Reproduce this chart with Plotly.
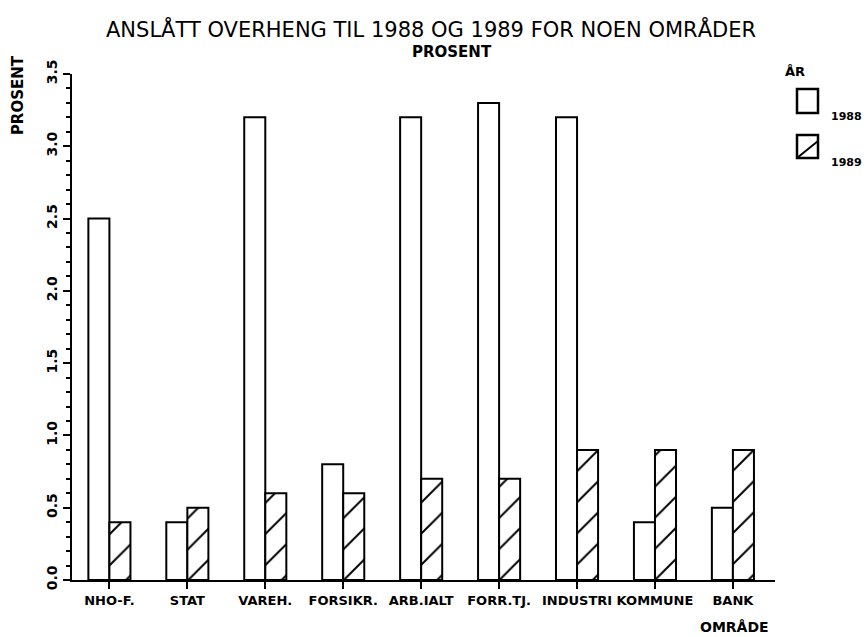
import plotly.graph_objects as go

categories = ["NHO-F.", "STAT", "VAREH.", "FORSIKR.", "ARB.IALT", "FORR.TJ.", "INDUSTRI", "KOMMUNE", "BANK"]
values_1988 = [2.5, 0.4, 3.2, 0.8, 3.2, 3.3, 3.2, 0.4, 0.5]
values_1989 = [0.4, 0.5, 0.6, 0.6, 0.7, 0.7, 0.9, 0.9, 0.9]
y_ticks = [0.0, 0.5, 1.0, 1.5, 2.0, 2.5, 3.0, 3.5]

FONT = "DejaVu Sans"

fig = go.Figure()
fig.add_trace(go.Bar(
    x=categories, y=values_1988, name="1988",
    marker=dict(color="white", line=dict(color="black", width=2)),
))
fig.add_trace(go.Bar(
    x=categories, y=values_1989, name="1989",
    marker=dict(color="white", line=dict(color="black", width=2),
                pattern=dict(shape="/", fgcolor="black", bgcolor="white",
                             fgopacity=1, size=22, solidity=0.09)),
))

fig.update_layout(
    width=867, height=637,
    margin=dict(l=72, r=92, t=74, b=57),
    paper_bgcolor="white", plot_bgcolor="white",
    barmode="group", bargap=0.46, bargroupgap=0,
    showlegend=False,
    font=dict(family=FONT, color="black"),
)
fig.update_xaxes(
    type="category", categoryorder="array", categoryarray=categories,
    range=[-0.48, 8.54],
    showline=True, linecolor="black", linewidth=2,
    ticks="outside", ticklen=7, tickwidth=2, tickcolor="black",
    showgrid=False, zeroline=False,
    tickfont=dict(family=FONT, size=13, weight="bold"),
)
fig.update_yaxes(
    range=[0, 3.5], tickvals=y_ticks, tickformat=".1f",
    tickangle=-90,
    showline=True, linecolor="black", linewidth=2,
    ticks="outside", ticklen=7, tickwidth=2, tickcolor="black",
    minor=dict(dtick=0.1, ticks="outside", ticklen=4, tickwidth=2, tickcolor="black"),
    showgrid=False, zeroline=False,
    tickfont=dict(family=FONT, size=14, weight="bold"),
)

# Titles
fig.add_annotation(text="ANSLÅTT OVERHENG TIL 1988 OG 1989 FOR NOEN OMRÅDER",
                   xref="paper", yref="paper", x=0.511, y=1.089, showarrow=False,
                   font=dict(family=FONT, size=21), xanchor="center", yanchor="middle")
fig.add_annotation(text="PROSENT", xref="paper", yref="paper", x=0.541, y=1.043,
                   showarrow=False, font=dict(family=FONT, size=15, weight="bold"),
                   xanchor="center", yanchor="middle")
fig.add_annotation(text="PROSENT", xref="paper", yref="paper", x=-0.077, y=0.958,
                   showarrow=False, textangle=-90, font=dict(family=FONT, size=15, weight="bold"),
                   xanchor="center", yanchor="middle")
fig.add_annotation(text="OMRÅDE", xref="paper", yref="paper", x=0.943, y=-0.093,
                   showarrow=False, font=dict(family=FONT, size=14, weight="bold"),
                   xanchor="center", yanchor="middle")

# Legend (drawn)
def px_x(p):
    return (p - 72) / 703
def px_y(p):
    return (580 - p) / 506

fig.add_annotation(text="ÅR", xref="paper", yref="paper", x=px_x(795), y=px_y(71),
                   showarrow=False, font=dict(family=FONT, size=13, weight="bold"),
                   xanchor="center", yanchor="middle")
fig.add_shape(type="rect", xref="paper", yref="paper",
              x0=px_x(797), x1=px_x(818), y0=px_y(113), y1=px_y(89),
              line=dict(color="black", width=2.5), fillcolor="white")
fig.add_shape(type="rect", xref="paper", yref="paper",
              x0=px_x(797), x1=px_x(818), y0=px_y(158), y1=px_y(135),
              line=dict(color="black", width=2.5), fillcolor="white")
fig.add_shape(type="line", xref="paper", yref="paper",
              x0=px_x(797), x1=px_x(818), y0=px_y(158), y1=px_y(141),
              line=dict(color="black", width=2))
fig.add_annotation(text="1988", xref="paper", yref="paper", x=px_x(829), y=px_y(117),
                   showarrow=False, font=dict(family=FONT, size=11, weight="bold"),
                   xanchor="left", yanchor="middle")
fig.add_annotation(text="1989", xref="paper", yref="paper", x=px_x(829), y=px_y(162),
                   showarrow=False, font=dict(family=FONT, size=11, weight="bold"),
                   xanchor="left", yanchor="middle")

fig.write_html("out.html", config={"displayModeBar": False},
               post_script="document.body.style.margin='0';document.body.style.overflow='hidden';")
